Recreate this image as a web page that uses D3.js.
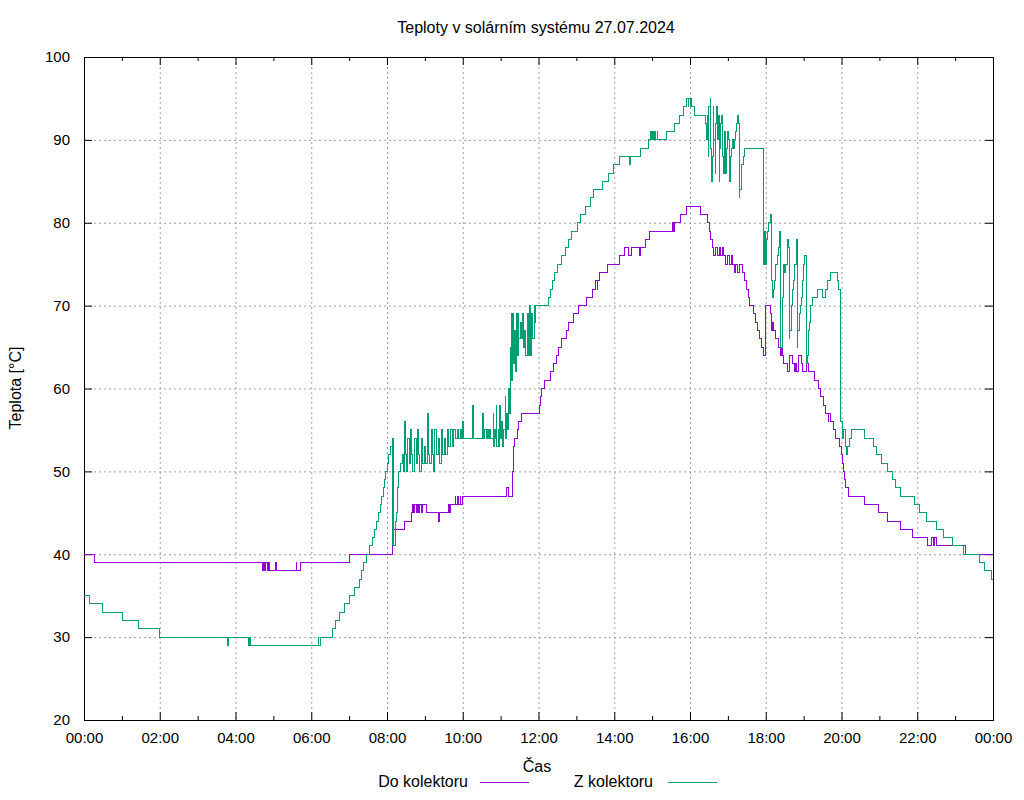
<!DOCTYPE html>
<html lang='cs'>
    <head>
        <meta charset='UTF-8'>
        <title>Teploty v solárním systému</title>
        <script src="https://d3js.org/d3.v7.min.js"></script>
        <style>
            body {
                margin: 0;
                background: white;
                font-family: 'Liberation Sans', Arial, sans-serif;
            }
            svg text {
                font-size: 16px;
                fill: black;
            }
            svg .tick text {
                font-size: 15px;
            }
        </style>
    </head>
    <body>
        <svg width='1024' height='800'></svg>

        <script>
            // data: [time, temperature °C], step changes over the day
            const chartTitle = 'Teploty v solárním systému 27.07.2024';
            const seriesNames = ['Do kolektoru', 'Z kolektoru'];
            const seriesColors = ['#9400d3', '#009e73'];
            const yTicks = [20, 30, 40, 50, 60, 70, 80, 90, 100];

            const doKolektoru = [
                ['00:00', 40], ['00:16', 39], ['04:42', 38], ['04:43', 39], ['04:44', 38], ['04:46', 39],
                ['04:47', 38], ['04:48', 39], ['04:50', 38], ['04:51', 39], ['04:52', 38], ['04:53', 39],
                ['04:54', 38], ['05:04', 39], ['05:05', 38], ['05:36', 39], ['05:37', 38], ['05:43', 39],
                ['07:00', 40], ['08:08', 42], ['08:09', 41], ['08:10', 43], ['08:27', 44], ['08:39', 45],
                ['08:41', 46], ['08:42', 45], ['08:44', 46], ['08:46', 45], ['08:48', 46], ['08:50', 45],
                ['08:51', 46], ['08:55', 45], ['08:57', 46], ['09:03', 45], ['09:21', 44], ['09:23', 45],
                ['09:37', 46], ['09:39', 45], ['09:41', 46], ['09:48', 47], ['09:49', 46], ['09:52', 47],
                ['09:53', 46], ['09:56', 47], ['09:57', 46], ['10:00', 47], ['11:10', 48], ['11:13', 47],
                ['11:19', 50], ['11:20', 52], ['11:21', 53], ['11:22', 54], ['11:26', 55], ['11:29', 56],
                ['11:33', 57], ['12:01', 58], ['12:03', 59], ['12:05', 60], ['12:09', 61], ['12:19', 62],
                ['12:24', 63], ['12:28', 64], ['12:31', 65], ['12:36', 66], ['12:44', 67], ['12:47', 68],
                ['12:55', 69], ['13:03', 70], ['13:16', 71], ['13:25', 72], ['13:31', 73], ['13:33', 72],
                ['13:34', 73], ['13:37', 74], ['13:50', 75], ['14:08', 76], ['14:17', 77], ['14:22', 76],
                ['14:27', 77], ['14:40', 76], ['14:42', 77], ['14:49', 78], ['14:56', 79], ['15:33', 80],
                ['15:34', 79], ['15:36', 80], ['15:45', 81], ['15:55', 82], ['16:16', 81], ['16:27', 80],
                ['16:31', 79], ['16:33', 78], ['16:35', 77], ['16:38', 76], ['16:40', 77], ['16:43', 76],
                ['16:46', 77], ['16:48', 76], ['16:51', 77], ['16:53', 76], ['16:57', 75], ['16:59', 76],
                ['17:02', 75], ['17:05', 76], ['17:07', 75], ['17:10', 74], ['17:12', 75], ['17:16', 74],
                ['17:19', 75], ['17:23', 74], ['17:26', 73], ['17:30', 72], ['17:32', 71], ['17:35', 70],
                ['17:40', 69], ['17:44', 68], ['17:47', 67], ['17:50', 66], ['17:53', 65], ['17:56', 64],
                ['17:59', 70], ['18:08', 69], ['18:09', 67], ['18:11', 68], ['18:12', 67], ['18:16', 66],
                ['18:20', 65], ['18:23', 64], ['18:25', 65], ['18:26', 64], ['18:28', 63], ['18:34', 62],
                ['18:37', 64], ['18:43', 63], ['18:46', 62], ['18:47', 63], ['18:49', 62], ['18:52', 64],
                ['18:56', 63], ['18:59', 62], ['19:05', 63], ['19:07', 62], ['19:18', 61], ['19:23', 60],
                ['19:27', 59], ['19:31', 58], ['19:34', 57], ['19:39', 56], ['19:40', 57], ['19:42', 56],
                ['19:47', 55], ['19:51', 54], ['19:57', 53], ['20:00', 52], ['20:02', 51], ['20:03', 50],
                ['20:04', 49], ['20:07', 48], ['20:11', 47], ['20:36', 46], ['20:59', 45], ['21:13', 44],
                ['21:33', 43], ['21:53', 42], ['22:17', 41], ['22:23', 42], ['22:25', 41], ['22:27', 42],
                ['22:30', 41], ['23:17', 40], ['24:00', 40]
            ];

            const zKolektoru = [
                ['00:00', 35], ['00:08', 34], ['00:29', 33], ['01:01', 32], ['01:26', 31], ['02:00', 30],
                ['03:48', 29], ['03:49', 30], ['04:21', 29], ['04:22', 30], ['04:23', 29], ['06:11', 30],
                ['06:12', 29], ['06:14', 30], ['06:33', 31], ['06:39', 32], ['06:44', 33], ['06:52', 34],
                ['07:00', 35], ['07:09', 36], ['07:16', 37], ['07:20', 38], ['07:23', 39], ['07:28', 40],
                ['07:33', 41], ['07:37', 42], ['07:40', 43], ['07:43', 44], ['07:46', 45], ['07:49', 46],
                ['07:52', 47], ['07:54', 48], ['07:56', 49], ['07:58', 50], ['08:01', 51], ['08:02', 52],
                ['08:06', 53], ['08:08', 54], ['08:09', 41], ['08:10', 54], ['08:11', 41], ['08:13', 43],
                ['08:14', 44], ['08:15', 45], ['08:16', 47], ['08:17', 48], ['08:18', 49], ['08:19', 50],
                ['08:21', 51], ['08:24', 52], ['08:26', 50], ['08:28', 56], ['08:29', 52], ['08:31', 50],
                ['08:33', 54], ['08:35', 51], ['08:38', 55], ['08:39', 52], ['08:41', 50], ['08:44', 54],
                ['08:46', 51], ['08:48', 55], ['08:50', 52], ['08:52', 50], ['08:55', 54], ['08:57', 51],
                ['08:59', 53], ['09:01', 51], ['09:04', 57], ['09:05', 52], ['09:07', 51], ['09:10', 55],
                ['09:12', 52], ['09:14', 50], ['09:16', 55], ['09:18', 52], ['09:21', 54], ['09:23', 51],
                ['09:26', 55], ['09:28', 52], ['09:31', 54], ['09:33', 52], ['09:36', 55], ['09:38', 53],
                ['09:41', 55], ['09:43', 53], ['09:46', 55], ['09:48', 54], ['09:51', 55], ['09:53', 54],
                ['09:56', 55], ['09:58', 54], ['10:00', 56], ['10:01', 54], ['10:16', 58], ['10:17', 54],
                ['10:32', 57], ['10:33', 54], ['10:35', 55], ['10:37', 54], ['10:39', 55], ['10:41', 54],
                ['10:43', 55], ['10:44', 54], ['10:48', 57], ['10:49', 53], ['10:50', 55], ['10:52', 54],
                ['10:53', 58], ['10:54', 53], ['10:56', 55], ['10:58', 53], ['10:59', 58], ['11:00', 54],
                ['11:02', 56], ['11:03', 53], ['11:05', 55], ['11:07', 59], ['11:08', 54], ['11:10', 57],
                ['11:11', 55], ['11:13', 60], ['11:14', 57], ['11:16', 65], ['11:17', 69], ['11:18', 61],
                ['11:19', 69], ['11:21', 63], ['11:22', 67], ['11:23', 62], ['11:25', 69], ['11:26', 64],
                ['11:28', 69], ['11:29', 66], ['11:31', 68], ['11:33', 66], ['11:35', 69], ['11:36', 65],
                ['11:38', 67], ['11:40', 64], ['11:42', 69], ['11:44', 64], ['11:46', 70], ['11:47', 64],
                ['11:49', 69], ['11:51', 66], ['11:53', 70], ['11:54', 68], ['11:56', 70], ['12:16', 71],
                ['12:19', 72], ['12:22', 73], ['12:26', 74], ['12:30', 75], ['12:37', 76], ['12:42', 77],
                ['12:47', 78], ['12:53', 79], ['13:01', 80], ['13:07', 81], ['13:14', 82], ['13:22', 83],
                ['13:27', 84], ['13:41', 85], ['13:51', 86], ['13:59', 87], ['14:08', 88], ['14:24', 87],
                ['14:25', 88], ['14:41', 89], ['14:54', 90], ['14:57', 91], ['14:58', 90], ['14:59', 91],
                ['15:00', 90], ['15:02', 91], ['15:03', 90], ['15:05', 91], ['15:06', 90], ['15:08', 91],
                ['15:09', 90], ['15:23', 91], ['15:36', 92], ['15:43', 93], ['15:50', 94], ['15:54', 95],
                ['15:57', 94], ['15:58', 95], ['16:00', 94], ['16:01', 95], ['16:02', 94], ['16:07', 93],
                ['16:24', 92], ['16:26', 90], ['16:27', 93], ['16:29', 88], ['16:30', 94], ['16:32', 95],
                ['16:33', 89], ['16:34', 85], ['16:35', 88], ['16:37', 94], ['16:38', 90], ['16:40', 86],
                ['16:41', 92], ['16:42', 94], ['16:44', 90], ['16:45', 93], ['16:46', 85], ['16:47', 89],
                ['16:48', 92], ['16:50', 93], ['16:51', 88], ['16:53', 86], ['16:54', 90], ['16:55', 91],
                ['16:57', 86], ['16:58', 89], ['17:00', 91], ['17:01', 90], ['17:03', 85], ['17:04', 88],
                ['17:06', 89], ['17:08', 90], ['17:09', 89], ['17:11', 90], ['17:12', 91], ['17:14', 92],
                ['17:15', 93], ['17:17', 92], ['17:18', 83], ['17:19', 84], ['17:21', 86], ['17:22', 87],
                ['17:24', 88], ['17:27', 89], ['17:56', 79], ['17:57', 75], ['17:58', 79], ['17:59', 75],
                ['18:01', 78], ['18:03', 79], ['18:05', 80], ['18:08', 81], ['18:09', 73], ['18:11', 71],
                ['18:12', 72], ['18:14', 73], ['18:16', 75], ['18:18', 76], ['18:20', 77], ['18:22', 79],
                ['18:24', 65], ['18:26', 66], ['18:27', 71], ['18:28', 75], ['18:30', 74], ['18:31', 75],
                ['18:34', 78], ['18:36', 77], ['18:37', 66], ['18:38', 67], ['18:40', 69], ['18:41', 70],
                ['18:43', 72], ['18:44', 73], ['18:46', 75], ['18:48', 78], ['18:50', 65], ['18:51', 67],
                ['18:53', 69], ['18:55', 70], ['18:57', 71], ['18:58', 73], ['19:00', 75], ['19:02', 76],
                ['19:04', 75], ['19:05', 63], ['19:06', 64], ['19:07', 67], ['19:09', 68], ['19:11', 70],
                ['19:14', 71], ['19:22', 72], ['19:30', 71], ['19:34', 72], ['19:38', 73], ['19:43', 74],
                ['19:53', 73], ['19:56', 72], ['19:58', 59], ['19:59', 56], ['20:01', 55], ['20:02', 54],
                ['20:03', 55], ['20:06', 53], ['20:08', 52], ['20:10', 53], ['20:13', 54], ['20:16', 55],
                ['20:36', 54], ['20:50', 53], ['20:56', 52], ['21:04', 51], ['21:13', 50], ['21:20', 49],
                ['21:26', 48], ['21:33', 47], ['21:55', 46], ['22:03', 45], ['22:14', 44], ['22:30', 43],
                ['22:41', 42], ['22:56', 41], ['23:14', 40], ['23:38', 39], ['23:47', 38], ['23:57', 37],
                ['24:00', 37]
            ];

            const margin = {top: 57, right: 31, bottom: 80, left: 84};
            const width = 1024 - margin.left - margin.right;
            const height = 800 - margin.top - margin.bottom;

            const parseTime = function(s) {
                let p = s.split(':').map(Number);
                return new Date(2024, 6, 27, p[0], p[1]);
            };

            const series = [doKolektoru, zKolektoru].map(function(arr) {
                return arr.map(function(d) { return {t: parseTime(d[0]), v: d[1]}; });
            });

            let svg = d3.select('svg');
            let g = svg.append('g').attr('transform', `translate(${margin.left},${margin.top})`);

            let x = d3.scaleTime()
                .domain([parseTime('00:00'), parseTime('24:00')])
                .range([0, width]);
            let y = d3.scaleLinear()
                .domain([20, 100])
                .range([height, 0]);

            const majorX = x.ticks(d3.timeHour.every(2));
            const minorX = x.ticks(d3.timeHour.every(1)).filter(d => d.getHours() % 2 === 1);

            // grid
            g.append('g').selectAll('line')
                .data(majorX.slice(1, -1))
                .enter().append('line')
                .attr('x1', d => x(d) + 0.5).attr('x2', d => x(d) + 0.5)
                .attr('y1', 0).attr('y2', height)
                .attr('stroke', '#a0a0a0').attr('stroke-dasharray', '2,3');
            g.append('g').selectAll('line')
                .data(yTicks.slice(1, -1))
                .enter().append('line')
                .attr('y1', d => y(d) + 0.5).attr('y2', d => y(d) + 0.5)
                .attr('x1', 0).attr('x2', width)
                .attr('stroke', '#a0a0a0').attr('stroke-dasharray', '2,3');

            // axes with inward ticks
            let xAxis = g.append('g')
                .attr('transform', `translate(0,${height})`)
                .call(d3.axisBottom(x).tickValues(majorX)
                    .tickFormat(d3.timeFormat('%H:%M'))
                    .tickSize(-8).tickPadding(12));
            let xMinor = g.append('g')
                .attr('transform', `translate(0,${height})`)
                .call(d3.axisBottom(x).tickValues(minorX).tickFormat('').tickSize(-4));
            let xTop = g.append('g')
                .call(d3.axisTop(x).tickValues(majorX).tickFormat('').tickSize(-8));
            let xTopMinor = g.append('g')
                .call(d3.axisTop(x).tickValues(minorX).tickFormat('').tickSize(-4));
            let yAxis = g.append('g')
                .call(d3.axisLeft(y).tickValues(yTicks).tickSize(-8).tickPadding(14));
            let yRight = g.append('g')
                .attr('transform', `translate(${width},0)`)
                .call(d3.axisRight(y).tickValues(yTicks).tickFormat('').tickSize(-8));

            [xAxis, xMinor, xTop, xTopMinor, yAxis, yRight].forEach(function(a) {
                a.select('.domain').remove();
                a.attr('font-family', null).attr('font-size', null);
                a.selectAll('line').attr('stroke', 'black');
            });

            g.append('rect')
                .attr('x', 0.5).attr('y', 0.5)
                .attr('width', width).attr('height', height)
                .attr('fill', 'none').attr('stroke', 'black');

            // data lines
            let line = d3.line()
                .x(d => x(d.t))
                .y(d => y(d.v))
                .curve(d3.curveStepAfter);

            g.append('g').selectAll('path')
                .data(series)
                .enter().append('path')
                .attr('d', d => line(d))
                .attr('fill', 'none')
                .attr('stroke', (d, i) => seriesColors[i])
                .attr('stroke-width', 1)
                .attr('shape-rendering', 'crispEdges');

            // texts
            svg.append('text')
                .attr('x', 536).attr('y', 33)
                .attr('text-anchor', 'middle')
                .text(chartTitle);
            svg.append('text')
                .attr('x', 537).attr('y', 772)
                .attr('text-anchor', 'middle')
                .text('Čas');
            svg.append('text')
                .attr('transform', 'translate(21,388) rotate(-90)')
                .attr('text-anchor', 'middle')
                .text('Teplota [°C]');

            // legend
            const legendTextX = [468, 653];
            const legendLineX = [480, 668];
            let legend = svg.append('g').selectAll('g')
                .data(seriesNames)
                .enter().append('g');
            legend.append('text')
                .attr('x', (d, i) => legendTextX[i]).attr('y', 787)
                .attr('text-anchor', 'end')
                .text(d => d);
            legend.append('line')
                .attr('x1', (d, i) => legendLineX[i]).attr('x2', (d, i) => legendLineX[i] + 49)
                .attr('y1', 782.5).attr('y2', 782.5)
                .attr('stroke', (d, i) => seriesColors[i]);
        </script>
    </body>
</html>
